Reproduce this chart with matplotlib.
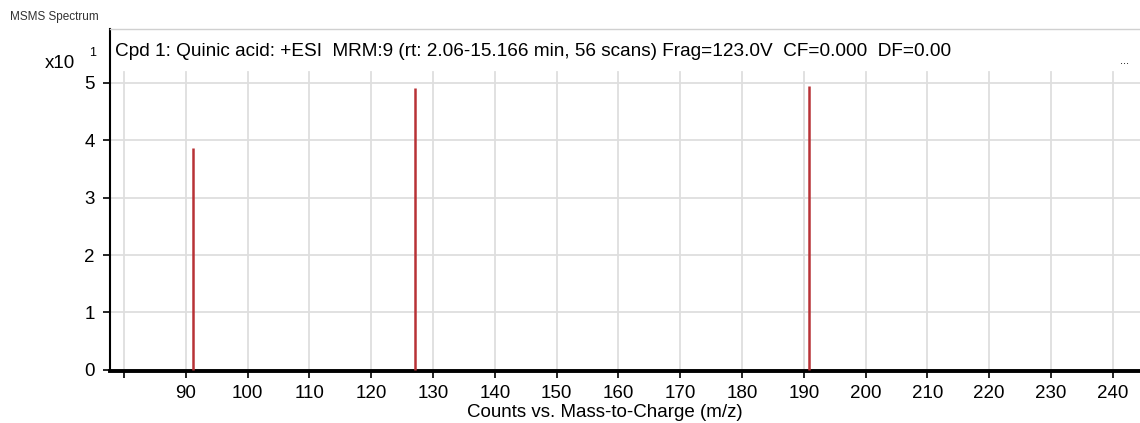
import matplotlib
matplotlib.use("Agg")
import matplotlib.pyplot as plt

plt.rcParams['font.family'] = ['Liberation Sans', 'DejaVu Sans']

# peaks (m/z, counts in units of 10^1)
mz = [91.1, 127.1, 190.9]
counts = [3.87, 4.91, 4.95]

xticks = list(range(80, 250, 10))
xtick_labels = [''] + [str(t) for t in xticks[1:]]
yticks = [0, 1, 2, 3, 4, 5]

title = "Cpd 1: Quinic acid: +ESI  MRM:9 (rt: 2.06-15.166 min, 56 scans) Frag=123.0V  CF=0.000  DF=0.00"

fig = plt.figure(figsize=(11.4, 4.23), dpi=100)
ax = fig.add_axes([110 / 1140, 52 / 423, 1030 / 1140, 342 / 423])

ax.vlines(mz, 0, counts, color='#b83236', linewidth=1.8, zorder=3)

ax.set_xlim(77.73, 244.4)
ax.set_ylim(-0.02, 5.94)
ax.set_xticks(xticks)
ax.set_xticklabels(xtick_labels, fontsize=13.5)
ax.set_yticks(yticks)
ax.set_yticklabels([str(t) for t in yticks], fontsize=13.5)
ax.tick_params(axis='both', direction='out', length=5, width=1.2, color='black')
ax.tick_params(axis='x', pad=5)
ax.tick_params(axis='y', pad=6)

ax.grid(True, color='#dedede', linewidth=1.3, zorder=0)
ax.set_axisbelow(True)
# vertical grid stops below the title band
for gl in ax.get_xgridlines():
    gl.set_ydata([0, 0.873])

ax.spines['left'].set_linewidth(1.5)
ax.spines['bottom'].set_linewidth(2.8)
ax.spines['top'].set_color('#d0d0d0')
ax.spines['top'].set_linewidth(1.0)
ax.spines['right'].set_visible(False)

ax.set_xlabel("Counts vs. Mass-to-Charge (m/z)", fontsize=13.5)
ax.xaxis.set_label_coords(0.480, -0.096)

ax.text(0.005, 0.935, title, transform=ax.transAxes, fontsize=13.7,
        ha='left', va='center')
ax.text(0.985, 0.905, "...", transform=ax.transAxes, fontsize=8,
        ha='center', va='center')

fig.text(10 / 1140, 1 - 17 / 423, "MSMS Spectrum", fontsize=8.5,
         ha='left', va='center', color='#333333')
fig.text(45 / 1140, 1 - 63 / 423, "x10", fontsize=13.5, ha='left', va='center')
fig.text(93 / 1140, 1 - 53 / 423, "1", fontsize=9, ha='center', va='center')

fig.savefig("out.png", dpi=100)
